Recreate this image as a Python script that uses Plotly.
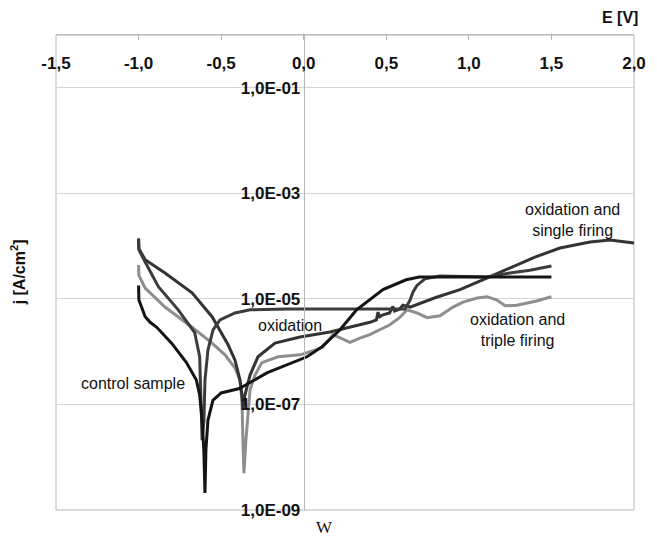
import plotly.graph_objects as go

# ---------------- data ----------------
x_tickvals = [-1.5, -1.0, -0.5, 0.0, 0.5, 1.0, 1.5, 2.0]
x_ticktext = ["-1,5", "-1,0", "-0,5", "0,0", "0,5", "1,0", "1,5", "2,0"]
y_tickvals = [1e-9, 1e-7, 1e-5, 1e-3, 1e-1]
y_ticktext = ["1,0E-09", "1,0E-07", "1,0E-05", "1,0E-03", "1,0E-01"]

control_E = [-1.0, -0.998, -0.96, -0.93, -0.89, -0.80, -0.71, -0.65, -0.63, -0.615, -0.605,
             -0.598, -0.592, -0.58, -0.55, -0.50, -0.39, -0.22, 0.02, 0.11, 0.22, 0.32,
             0.48, 0.62, 0.70, 0.90, 1.10, 1.30, 1.50]
control_j = [1.8e-5, 9.5e-6, 4.6e-6, 3.6e-6, 2.9e-6, 1.45e-6, 6.2e-7, 2.9e-7, 1.5e-7, 5e-8, 1.4e-8,
             2.1e-9, 1.4e-8, 5e-8, 1.2e-7, 1.65e-7, 2.0e-7, 4.0e-7, 8.0e-7, 1.23e-6, 2.6e-6, 6.2e-6,
             1.5e-5, 2.3e-5, 2.6e-5, 2.6e-5, 2.6e-5, 2.6e-5, 2.6e-5]

oxid_E = [-1.0, -0.998, -0.96, -0.88, -0.76, -0.66, -0.63, -0.62, -0.615, -0.604, -0.598,
          -0.58, -0.549, -0.507, -0.416, -0.325, -0.1, 0.2, 0.45, 0.613, 0.644, 0.662,
          0.686, 0.734, 0.825, 1.007, 1.110, 1.249, 1.370, 1.50]
oxid_j = [1.3e-4, 8.5e-5, 5.0e-5, 1.7e-5, 6.2e-6, 2.3e-6, 8.0e-7, 1.2e-7, 2.1e-8, 5e-8, 2.9e-7,
          1.07e-6, 2.6e-6, 4.0e-6, 5.4e-6, 6.2e-6, 6.4e-6, 6.4e-6, 6.4e-6, 6.4e-6, 9.5e-6, 1.35e-5,
          1.8e-5, 2.4e-5, 2.7e-5, 2.6e-5, 2.6e-5, 3.1e-5, 3.5e-5, 4.2e-5]

single_E = [-1.0, -0.998, -0.96, -0.84, -0.676, -0.555, -0.458, -0.416, -0.386, -0.374, -0.368,
            -0.356, -0.325, -0.277, -0.174, -0.022, 0.159, 0.401, 0.44, 0.45, 0.46, 0.48,
            0.52, 0.54, 0.55, 0.58, 0.60, 0.644, 0.795, 0.946, 1.098, 1.249, 1.40, 1.552,
            1.734, 1.855, 2.0]
single_j = [1.4e-4, 9.0e-5, 5.5e-5, 3.1e-5, 1.3e-5, 4.6e-6, 1.35e-6, 6.9e-7, 2.9e-7, 1.5e-7, 8e-8,
            1.5e-7, 3.6e-7, 8.0e-7, 1.45e-6, 1.9e-6, 2.35e-6, 3.6e-6, 4.0e-6, 5.6e-6, 4.6e-6, 5.0e-6,
            5.4e-6, 7.2e-6, 5.9e-6, 6.4e-6, 7.6e-6, 7.0e-6, 1.05e-5, 1.5e-5, 2.4e-5, 3.9e-5, 6.2e-5, 9.2e-5,
            1.2e-4, 1.3e-4, 1.15e-4]

triple_E = [-1.0, -0.998, -0.96, -0.84, -0.676, -0.555, -0.477, -0.416, -0.386, -0.374, -0.368,
            -0.362, -0.35, -0.337, -0.325, -0.295, -0.253, -0.156, -0.022, 0.068, 0.117, 0.177,
            0.22, 0.28, 0.34, 0.40, 0.46, 0.52, 0.58, 0.625, 0.686, 0.747, 0.825, 0.904, 0.965,
            1.05, 1.11, 1.17, 1.22, 1.29, 1.41, 1.50]
triple_j = [4.4e-5, 2.8e-5, 1.6e-5, 7.0e-6, 2.9e-6, 1.45e-6, 8.7e-7, 4.9e-7, 2.9e-7, 1.2e-7, 2.1e-8,
            5e-9, 2.1e-8, 8e-8, 1.9e-7, 3.6e-7, 6.2e-7, 8.0e-7, 8.7e-7, 1.07e-6, 1.23e-6, 2.1e-6,
            1.8e-6, 1.5e-6, 1.8e-6, 2.1e-6, 2.6e-6, 3.2e-6, 4.4e-6, 6.2e-6, 5.4e-6, 4.4e-6, 4.8e-6,
            7.0e-6, 8.7e-6, 1.04e-5, 1.1e-5, 9.5e-6, 7.4e-6, 7.6e-6, 9.1e-6, 1.1e-5]

# ---------------- figure ----------------
fig = go.Figure()
series = [
    (triple_E, triple_j, "#8e8e8e"),
    (single_E, single_j, "#333333"),
    (oxid_E, oxid_j, "#3c3c3c"),
    (control_E, control_j, "#141414"),
]
for E, j, c in series:
    fig.add_trace(go.Scatter(x=E, y=j, mode="lines",
                             line=dict(color=c, width=3), showlegend=False,
                             hoverinfo="skip"))

x0, x1 = -1.5, 2.0
ypos = (0 - x0) / (x1 - x0)
FAM = "Liberation Sans, Arial, sans-serif"

fig.update_layout(
    width=657, height=549,
    # page body adds an 8px offset; margins compensate so plot area is 56..634 x 35..510
    margin=dict(l=48, r=31, t=27, b=47, autoexpand=False),
    paper_bgcolor="white", plot_bgcolor="white",
    font=dict(family=FAM, color="#111111"),
    xaxis=dict(
        range=[x0, x1], side="top", tickvals=x_tickvals, ticktext=x_ticktext,
        ticklabelposition="inside", ticklabeloverflow="allow",
        ticks="inside", ticklen=5, tickcolor="#b0b0b0",
        ticklabelstandoff=18,
        tickfont=dict(size=17, family=FAM, color="#111111", weight="bold"),
        showgrid=False, zeroline=False, showline=True, linecolor="#b8b8b8", linewidth=1,
    ),
    yaxis=dict(
        type="log", range=[-9, 0], tickvals=y_tickvals, ticktext=y_ticktext,
        anchor="free", position=ypos, showline=True, linecolor="#b8b8b8", linewidth=1,
        ticks="", ticklabelstandoff=0,
        tickfont=dict(size=17, family=FAM, color="#111111", weight="bold"),
        showgrid=True, gridcolor="#d4d4d4", gridwidth=1, zeroline=False,
    ),
    shapes=[dict(type="rect", xref="paper", yref="paper", x0=0, x1=1, y0=0, y1=1,
                 line=dict(color="#b8b8b8", width=1), layer="below")],
)

txt_font = dict(size=16, family=FAM, color="#111111")
bold_font = dict(size=16, family=FAM, color="#111111", weight="bold")


def note(text, x, y, font=txt_font, **kw):
    fig.add_annotation(text=text, xref="paper", yref="paper", x=x, y=y,
                       xanchor=kw.pop("xanchor", "center"),
                       yanchor=kw.pop("yanchor", "middle"),
                       showarrow=False, font=font, **kw)


note("E [V]", 1.0, 1.0, font=bold_font, xanchor="right", xshift=6, yshift=18)
note("j [A/cm<sup>2</sup>]", -0.066, 0.5, font=bold_font, textangle=-90)
note("W", 0.465, -0.036,
     font=dict(size=17, family="Liberation Serif, Times New Roman, serif", color="#111111"))
note("oxidation and<br>single firing", 0.894, 0.611)
note("oxidation and<br>triple firing", 0.799, 0.379)
note("oxidation", 0.405, 0.389)
note("control sample", 0.133, 0.267)

fig.write_html("out.html")
